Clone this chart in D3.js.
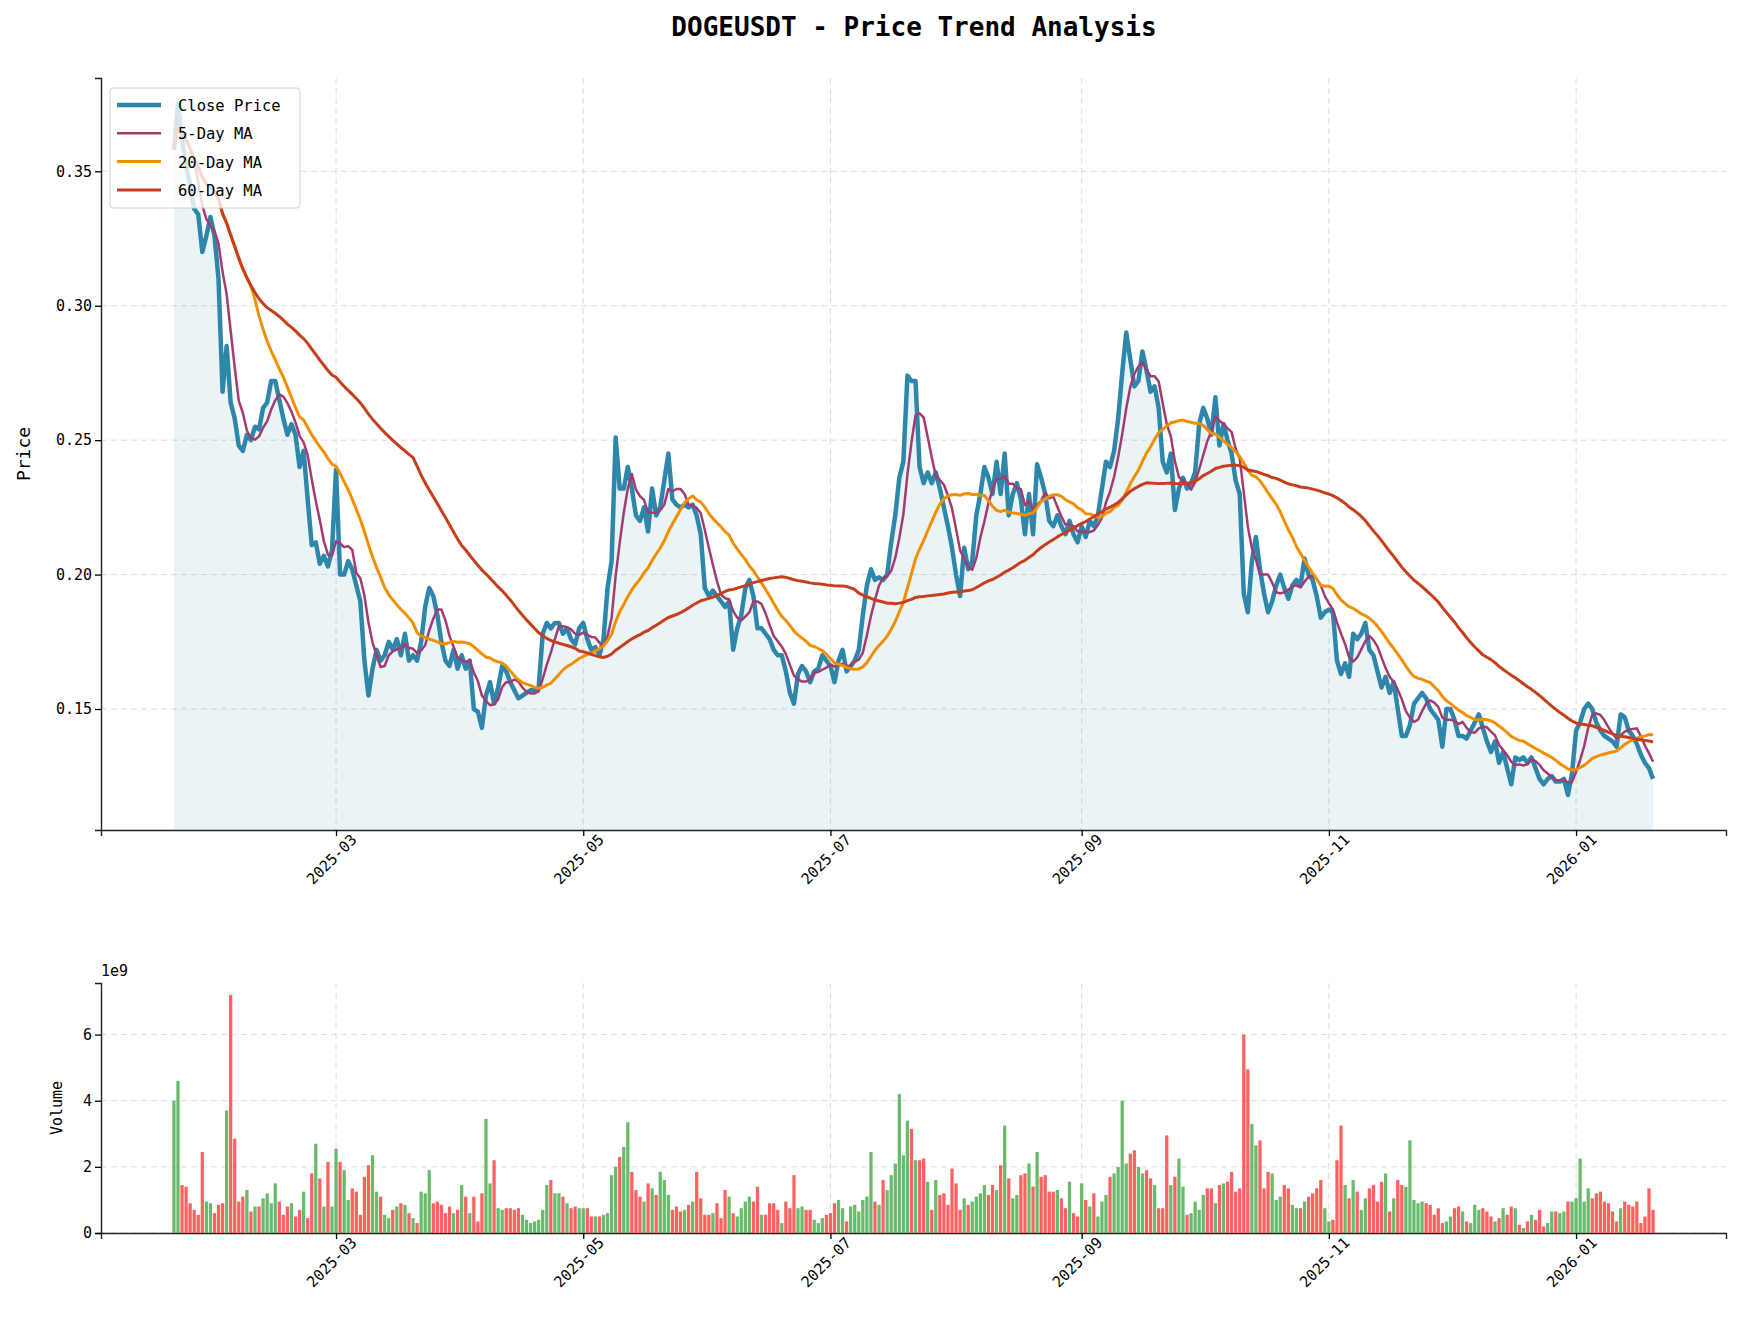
<!DOCTYPE html>
<html>
<head>
<meta charset="utf-8">
<script src="https://cdn.jsdelivr.net/npm/d3@7"></script>
<style>
  body { margin: 0; background: #fff; }
  text { font-family: "DejaVu Sans Mono", monospace; }
</style>
</head>
<body>
<svg id="chart" width="1743" height="1327"></svg>
<script>
// daily closes, 2025-01-20 .. 2026-01-20
const closeJan25 = [0.358,0.375,0.362,0.352,0.345,0.336,0.334,0.320,0.326,0.333,0.326,0.310];
const closeFeb = [0.268,0.285,0.264,0.258,0.248,0.246,0.252,0.250,0.255,0.254,0.262,0.264,0.272,0.272,0.265,0.258,0.252,0.256,0.252,0.240,0.246,0.228,0.211,0.212,0.204,0.207,0.203,0.209];
const closeMar = [0.239,0.200,0.200,0.205,0.202,0.196,0.190,0.168,0.155,0.165,0.172,0.168,0.170,0.175,0.172,0.176,0.170,0.178,0.168,0.170,0.168,0.175,0.188,0.195,0.192,0.185,0.175,0.168,0.166,0.172,0.165];
const closeApr = [0.170,0.165,0.168,0.150,0.149,0.143,0.155,0.160,0.152,0.158,0.166,0.164,0.160,0.157,0.154,0.155,0.156,0.157,0.157,0.158,0.178,0.182,0.180,0.182,0.182,0.178,0.180,0.176,0.174,0.180];
const closeMay = [0.182,0.176,0.172,0.173,0.170,0.176,0.195,0.205,0.251,0.232,0.232,0.240,0.232,0.222,0.220,0.225,0.216,0.232,0.222,0.225,0.235,0.245,0.228,0.226,0.225,0.226,0.225,0.226,0.222,0.215,0.195];
const closeJun = [0.192,0.194,0.192,0.190,0.188,0.190,0.172,0.180,0.185,0.195,0.198,0.192,0.180,0.180,0.178,0.176,0.172,0.170,0.170,0.164,0.156,0.152,0.163,0.166,0.164,0.160,0.164,0.165,0.170,0.168];
const closeJul = [0.166,0.160,0.168,0.172,0.164,0.166,0.168,0.172,0.185,0.196,0.202,0.198,0.199,0.198,0.200,0.212,0.222,0.236,0.242,0.274,0.272,0.272,0.240,0.234,0.238,0.234,0.238,0.232,0.225,0.218,0.210];
const closeAug = [0.200,0.192,0.210,0.202,0.205,0.222,0.230,0.240,0.236,0.230,0.242,0.230,0.245,0.222,0.230,0.234,0.228,0.215,0.230,0.215,0.241,0.236,0.230,0.220,0.218,0.222,0.218,0.215,0.220,0.215,0.212];
const closeSep = [0.218,0.214,0.220,0.218,0.222,0.232,0.242,0.240,0.246,0.258,0.275,0.290,0.280,0.270,0.272,0.283,0.276,0.268,0.270,0.262,0.242,0.238,0.245,0.224,0.232,0.236,0.232,0.234,0.238,0.256];
const closeOct = [0.262,0.258,0.252,0.266,0.248,0.256,0.250,0.245,0.235,0.230,0.193,0.186,0.205,0.214,0.202,0.193,0.186,0.190,0.196,0.200,0.195,0.191,0.196,0.198,0.196,0.206,0.200,0.198,0.192,0.184,0.186];
const closeNov = [0.187,0.186,0.168,0.163,0.167,0.162,0.178,0.176,0.178,0.182,0.172,0.170,0.164,0.158,0.162,0.156,0.160,0.150,0.140,0.140,0.144,0.152,0.154,0.156,0.154,0.150,0.148,0.146,0.136,0.150];
const closeDec = [0.150,0.146,0.140,0.140,0.139,0.142,0.145,0.148,0.143,0.138,0.134,0.138,0.130,0.134,0.128,0.122,0.132,0.131,0.132,0.130,0.132,0.128,0.124,0.122,0.124,0.125,0.123,0.123,0.124,0.118,0.126];
const closeJan26 = [0.142,0.145,0.150,0.152,0.150,0.145,0.142,0.140,0.139,0.138,0.136,0.148,0.147,0.142,0.140,0.137,0.133,0.130,0.128,0.124];

// daily volume, units of 1e9
const volJan25 = [4.0,4.6,1.45,1.4,0.9,0.7,0.55,2.45,0.95,0.9,0.6,0.85];
const volFeb = [0.9,3.7,7.2,2.85,0.95,1.1,1.3,0.65,0.8,0.8,1.05,1.2,0.9,1.5,0.95,0.55,0.8,0.9,0.5,0.7,1.25,0.45,1.8,2.7,1.65,0.8,2.15,0.8];
const volMar = [2.55,2.15,1.9,1.0,1.35,1.25,0.55,1.7,2.05,2.35,1.25,1.1,0.55,0.45,0.7,0.8,0.9,0.85,0.6,0.45,0.3,1.25,1.2,1.9,0.9,0.95,0.85,0.6,0.8,0.6,0.7];
const volApr = [1.45,1.1,0.6,1.1,0.35,1.2,3.45,1.5,2.2,0.75,0.7,0.75,0.75,0.7,0.75,0.55,0.4,0.3,0.35,0.4,0.7,1.45,1.6,1.2,1.2,1.1,0.9,0.75,0.8,0.75];
const volMay = [0.75,0.75,0.5,0.5,0.5,0.55,0.6,1.75,2.0,2.3,2.6,3.35,1.85,1.3,1.1,0.95,1.5,1.35,1.15,1.85,1.6,1.15,0.7,0.8,0.65,0.7,0.85,0.95,1.85,1.05,0.55];
const volJun = [0.55,0.6,0.9,0.45,1.3,1.1,0.6,0.5,0.75,0.95,1.1,0.95,1.4,0.55,0.55,0.9,0.9,0.7,0.3,0.95,0.75,1.75,0.75,0.8,0.7,0.7,0.4,0.3,0.45,0.55];
const volJul = [0.6,0.9,1.0,0.75,0.35,0.8,0.85,0.65,1.0,1.1,2.45,0.95,0.85,1.6,1.3,1.75,2.1,4.2,2.35,3.4,3.15,2.2,2.2,2.25,1.55,0.7,1.6,1.15,1.2,0.85,1.95];
const volAug = [1.5,0.7,1.05,0.85,0.95,1.1,1.2,1.45,1.15,1.45,1.3,2.05,3.25,1.65,1.05,1.15,1.75,1.8,2.1,1.4,2.45,1.7,1.75,1.25,1.25,1.3,1.05,0.75,1.55,0.6,0.5];
const volSep = [1.5,1.0,0.8,1.2,0.5,0.95,1.15,1.7,1.8,2.0,4.0,2.1,2.4,2.5,2.0,1.8,1.9,1.65,1.45,0.75,0.75,2.95,1.45,1.7,2.25,1.4,0.55,0.6,0.95,0.7];
const volOct = [1.15,1.35,1.35,0.9,1.45,1.5,1.55,1.85,1.25,1.35,6.0,4.95,3.3,2.65,2.8,1.35,1.85,1.8,1.0,1.1,1.45,1.35,0.85,0.75,0.75,0.95,1.1,1.2,1.35,1.6,0.75];
const volNov = [0.35,0.4,2.2,3.25,1.45,1.05,1.6,1.25,0.7,1.05,1.35,1.45,0.95,1.55,1.8,0.65,1.05,1.6,1.45,1.4,2.8,1.0,0.9,0.95,0.9,0.85,0.55,0.75,0.3,0.35];
const volDec = [0.5,0.75,0.8,0.65,0.35,0.3,0.85,0.7,0.75,0.65,0.5,0.35,0.45,0.75,0.55,0.8,0.75,0.25,0.15,0.35,0.55,0.4,0.7,0.2,0.3,0.65,0.65,0.6,0.65,0.95,0.95];
const volJan26 = [1.05,2.25,0.95,1.35,1.05,1.2,1.25,0.95,0.9,0.65,0.35,0.75,0.95,0.85,0.8,0.95,0.3,0.5,1.35,0.7];

const yTicks = [0.15, 0.20, 0.25, 0.30, 0.35];
const volTicks = [0, 2, 4, 6];
const maWindows = [5, 20, 60];
const seriesNames = ["Close Price", "5-Day MA", "20-Day MA", "60-Day MA"];
const seriesColors = ["#2E86AB", "#A23B72", "#F18F01", "#C73E1D"];

const closes = [].concat(closeJan25, closeFeb, closeMar, closeApr, closeMay, closeJun,
  closeJul, closeAug, closeSep, closeOct, closeNov, closeDec, closeJan26);
const vols = [].concat(volJan25, volFeb, volMar, volApr, volMay, volJun,
  volJul, volAug, volSep, volOct, volNov, volDec, volJan26);
const start = new Date(2025, 0, 20);
const data = closes.map((c, i) => ({
  date: d3.timeDay.offset(start, i),
  close: c,
  vol: vols[i] * 1e9,
  up: i === 0 ? true : c >= closes[i - 1]
}));
// rolling means (min_periods = 1)
maWindows.forEach(w => {
  data.forEach((d, i) => {
    const s = data.slice(Math.max(0, i - w + 1), i + 1);
    d["ma" + w] = d3.mean(s, e => e.close);
  });
});

const svg = d3.select("#chart");
const left = 101, right = 1726;
const top1 = 78, bot1 = 830;
const top2 = 983, bot2 = 1233;

const x = d3.scaleTime()
  .domain([d3.timeDay.offset(start, -18), d3.timeDay.offset(data[data.length - 1].date, 18)])
  .range([left, right]);
const y = d3.scaleLinear().domain([0.105, 0.3847]).range([bot1, top1]);
const yv = d3.scaleLinear().domain([0, 7.56e9]).range([bot2, top2]);
const tickDates = d3.timeMonth.every(2).range(new Date(2025, 2, 1), new Date(2026, 1, 2));

svg.append("text").attr("x", 914).attr("y", 36).attr("text-anchor", "middle")
  .attr("font-size", 26).attr("font-weight", "bold").text("DOGEUSDT - Price Trend Analysis");

function grid(top, bot, yScale, ticks) {
  const g = svg.append("g").attr("stroke", "#dcdcdc").attr("stroke-dasharray", "6,4").attr("stroke-width", 1);
  tickDates.forEach(t => g.append("line").attr("x1", x(t)).attr("x2", x(t)).attr("y1", top).attr("y2", bot));
  ticks.forEach(t => g.append("line").attr("x1", left).attr("x2", right).attr("y1", yScale(t)).attr("y2", yScale(t)));
}
grid(top1, bot1, y, yTicks);
grid(top2, bot2, yv, volTicks.map(v => v * 1e9));

// price panel
svg.append("path").datum(data)
  .attr("d", d3.area().x(d => x(d.date)).y0(bot1).y1(d => y(d.close)))
  .attr("fill", "#2E86AB").attr("fill-opacity", 0.1);

svg.append("clipPath").attr("id", "clip1").append("rect")
  .attr("x", left).attr("y", top1).attr("width", right - left).attr("height", bot1 - top1);

const keys = ["close", "ma5", "ma20", "ma60"];
const widths = [4.5, 2.5, 3, 3];
keys.forEach((k, i) => {
  svg.append("path").datum(data)
    .attr("clip-path", "url(#clip1)")
    .attr("d", d3.line().x(d => x(d.date)).y(d => y(d[k])))
    .attr("fill", "none").attr("stroke", seriesColors[i]).attr("stroke-width", widths[i])
    .attr("stroke-linejoin", "round");
});

function axes(bot, yAxisGen) {
  svg.append("g").attr("transform", `translate(0,${bot})`)
    .call(d3.axisBottom(x).tickValues(tickDates).tickFormat(d3.timeFormat("%Y-%m")).tickSize(6))
    .call(g => g.selectAll("text").attr("font-size", 15).attr("fill", "#000")
      .attr("text-anchor", "end").attr("dx", "0.5em").attr("dy", "0.9em").attr("transform", "rotate(-45)"))
    .call(g => g.selectAll("line").attr("stroke-width", 1.3))
    .call(g => g.select(".domain").attr("stroke", "#222").attr("stroke-width", 1.4));
  svg.append("g").attr("transform", `translate(${left},0)`)
    .call(yAxisGen)
    .call(g => g.selectAll("text").attr("font-size", 15).attr("fill", "#000"))
    .call(g => g.selectAll("line").attr("stroke-width", 1.3))
    .call(g => g.select(".domain").attr("stroke", "#222").attr("stroke-width", 1.4));
}
axes(bot1, d3.axisLeft(y).tickValues(yTicks).tickFormat(d3.format(".2f")).tickSize(6));
axes(bot2, d3.axisLeft(yv).tickValues(volTicks.map(v => v * 1e9)).tickFormat(d => d / 1e9).tickSize(6));

svg.append("text").attr("transform", `translate(30,${(top1 + bot1) / 2}) rotate(-90)`)
  .attr("text-anchor", "middle").attr("font-size", 18).text("Price");
svg.append("text").attr("transform", `translate(62,${(top2 + bot2) / 2}) rotate(-90)`)
  .attr("text-anchor", "middle").attr("font-size", 15).text("Volume");
svg.append("text").attr("x", left).attr("y", top2 - 7).attr("font-size", 15).text("1e9");

// volume bars
const bw = (x(d3.timeDay.offset(start, 1)) - x(start)) * 0.8;
svg.append("g").selectAll("rect").data(data).join("rect")
  .attr("x", d => x(d.date) - bw / 2)
  .attr("y", d => yv(d.vol))
  .attr("width", bw)
  .attr("height", d => bot2 - yv(d.vol))
  .attr("fill", d => d.up ? "#4CAF50" : "#FF4444")
  .attr("fill-opacity", 0.85);

// legend
const lg = svg.append("g").attr("transform", "translate(110,88)");
lg.append("rect").attr("width", 190).attr("height", 120).attr("rx", 3)
  .attr("fill", "#fff").attr("fill-opacity", 0.8).attr("stroke", "#d0d0d0");
seriesNames.forEach((n, i) => {
  const yy = 17 + i * 28.3;
  lg.append("line").attr("x1", 7).attr("x2", 51).attr("y1", yy).attr("y2", yy)
    .attr("stroke", seriesColors[i]).attr("stroke-width", widths[i]);
  lg.append("text").attr("x", 68).attr("y", yy + 6).attr("font-size", 15.5).text(n);
});
</script>
</body>
</html>
